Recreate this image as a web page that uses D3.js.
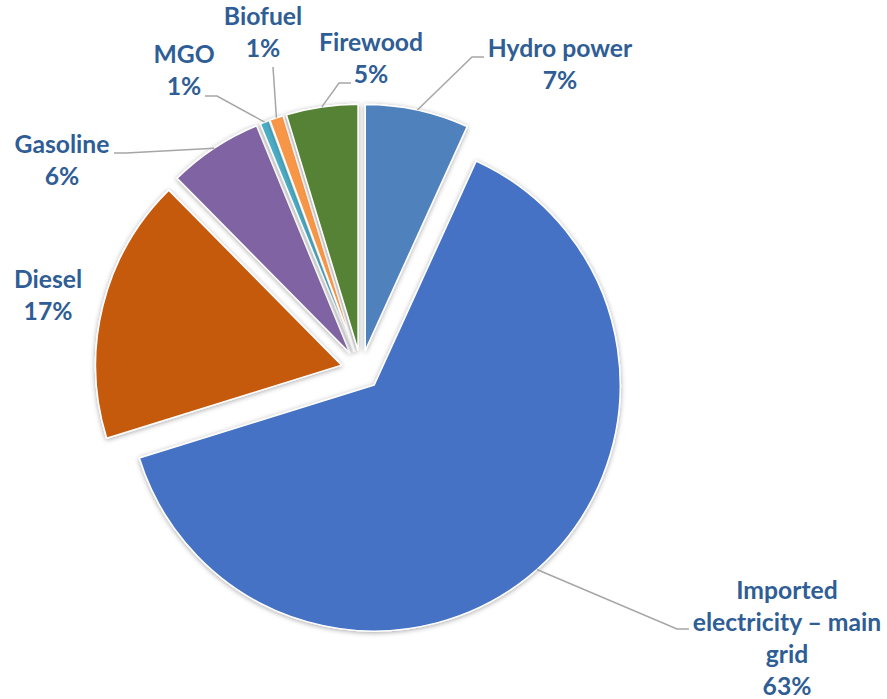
<!DOCTYPE html>
<html><head><meta charset="utf-8">
<script src="https://cdn.jsdelivr.net/npm/d3@7"></script>
<style>
html,body{margin:0;padding:0;background:#fff;}
svg{display:block;}
text{font-family:"Lato","Open Sans",sans-serif;font-weight:700;}
</style></head>
<body>
<svg id="chart" width="887" height="699"></svg>
<script>
// ---- data ----
const categories = ["Hydro power","Imported electricity – main grid","Diesel","Gasoline","MGO","Biofuel","Firewood"];
const values = [6.8, 63.4, 17.4, 6.2, 0.6, 0.9, 4.7];
const colors = ["#4F81BD","#4472C4","#C55A11","#8064A2","#4BACC6","#F79646","#548235"];
const labelLines = [["Hydro power"],["Imported","electricity – main","grid"],["Diesel"],["Gasoline"],["MGO"],["Biofuel"],["Firewood"]];

// ---- layout ----
const W = 887, H = 699;
const cx = 361, cy = 370, R = 246, explode = 20;
const lineH = 32;
// label anchor (center x, first baseline) and leader elbow/end
const labelLayout = [
  {x:560, y:57,  elbow:[472,57],  end:[484,57]},
  {x:787, y:599, elbow:[677,629], end:[689,629]},
  {x:48,  y:288, elbow:null,      end:null},
  {x:62,  y:153, elbow:[126,153], end:[114,153]},
  {x:184, y:63,  elbow:[217,96],  end:[205,96]},
  {x:263, y:25,  elbow:[273,67],  end:[273,67]},
  {x:371, y:51,  elbow:[339,83],  end:[351,83]}
];

const svg = d3.select("#chart");
const defs = svg.append("defs");
const f = defs.append("filter").attr("id","sh").attr("x","-20%").attr("y","-20%").attr("width","140%").attr("height","140%");
f.append("feDropShadow").attr("dx",0).attr("dy",1).attr("stdDeviation",2.5).attr("flood-color","#000").attr("flood-opacity",0.35);

const data = categories.map((c,i)=>({name:c, value:values[i], color:colors[i], lines:labelLines[i], lay:labelLayout[i]}));
const pie = d3.pie().sort(null).value(d=>d.value);
const arcs = pie(data);
const arc = d3.arc().innerRadius(0).outerRadius(R);

const g = svg.append("g").attr("transform",`translate(${cx},${cy})`);
arcs.forEach(a=>{
  const mid = (a.startAngle+a.endAngle)/2;
  a.ox = explode*Math.sin(mid);
  a.oy = -explode*Math.cos(mid);
  a.mid = mid;
});
g.selectAll("path.slice").data(arcs).join("path")
  .attr("class","slice")
  .attr("transform",d=>`translate(${d.ox},${d.oy})`)
  .attr("d",arc)
  .attr("fill",d=>d.data.color)
  .attr("stroke","#fff").attr("stroke-width",1.5)
  .attr("stroke-linejoin","round")
  .attr("filter","url(#sh)");

// leader lines
const lg = svg.append("g");
arcs.forEach(a=>{
  const L = a.data.lay;
  if(!L.elbow) return;
  const sx = cx + a.ox + R*Math.sin(a.mid);
  const sy = cy + a.oy - R*Math.cos(a.mid);
  lg.append("path")
    .attr("d", d3.line()([[sx,sy], L.elbow, L.end]))
    .attr("fill","none").attr("stroke","#A6A6A6").attr("stroke-width",1.5);
});

// labels
const tg = svg.append("g");
arcs.forEach(a=>{
  const L = a.data.lay;
  const lines = a.data.lines.concat([Math.round(a.data.value)+"%"]);
  const t = tg.append("text").attr("text-anchor","middle").attr("fill","#2F5D95").attr("font-size",24.7);
  lines.forEach((s,i)=>{
    t.append("tspan").attr("x",L.x).attr("y",L.y+i*lineH).text(s);
  });
});
</script>
</body></html>
